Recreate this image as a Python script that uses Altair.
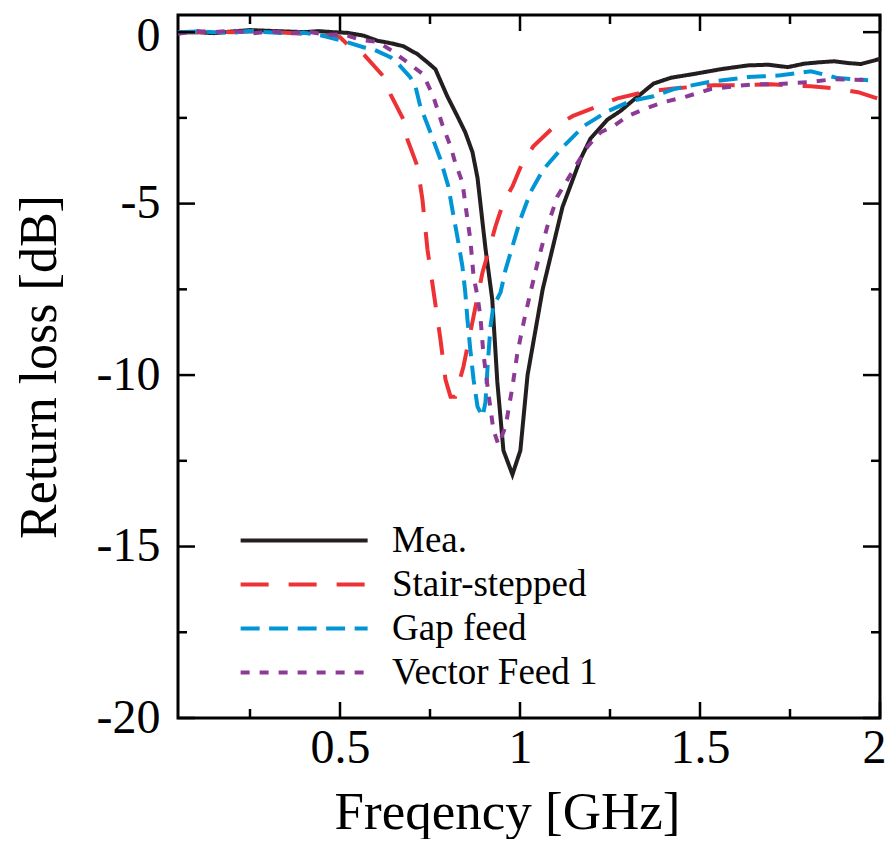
import altair as alt
import pandas as pd

series = ["Mea.", "Stair-stepped", "Gap feed", "Vector Feed 1"]
colors = ["#231F20", "#EE3135", "#0096D6", "#8C3A96"]
dashes = [[1, 0], [28, 20], [19, 9.5], [9, 10]]

mea_f = [0.05, 0.10, 0.15, 0.20, 0.25, 0.30, 0.35, 0.40, 0.44, 0.48, 0.52, 0.565, 0.604, 0.64, 0.676,
         0.715, 0.743, 0.765, 0.798, 0.826, 0.848, 0.868, 0.882, 0.904, 0.923, 0.937, 0.954, 0.979,
         1.001, 1.021, 1.063, 1.118, 1.168, 1.196, 1.243, 1.279, 1.307, 1.371, 1.419, 1.483, 1.558,
         1.633, 1.69, 1.744, 1.789, 1.83, 1.872, 1.91, 1.947, 2.0]
mea_db = [0.0, 0.0, -0.03, 0.02, 0.06, 0.04, 0.02, 0.0, 0.03, 0.0, -0.02, -0.1, -0.25, -0.32, -0.41,
          -0.64, -0.88, -1.08, -1.87, -2.45, -2.92, -3.5, -4.25, -6.3, -7.8, -10.2, -12.2, -12.9,
          -12.2, -10.0, -7.5, -5.1, -3.7, -3.1, -2.55, -2.3, -2.05, -1.5, -1.33, -1.22, -1.08,
          -0.97, -0.95, -1.02, -0.92, -0.88, -0.85, -0.9, -0.93, -0.78]

stair_f = [0.05, 0.10, 0.15, 0.20, 0.25, 0.30, 0.35, 0.40, 0.45, 0.50, 0.52, 0.565, 0.62, 0.64, 0.676,
           0.687, 0.715, 0.729, 0.743, 0.759, 0.779, 0.793, 0.807, 0.82, 0.843, 0.871, 0.896, 0.912,
           0.932, 0.954, 0.979, 1.007, 1.037, 1.093, 1.146, 1.216, 1.271, 1.343, 1.427, 1.538, 1.605,
           1.697, 1.744, 1.808, 1.872, 1.939, 2.0]
stair_db = [0.0, 0.0, 0.02, 0.0, 0.02, 0.0, -0.02, -0.05, -0.1, -0.15, -0.35, -0.64, -1.28, -1.81, -2.54,
            -3.12, -3.91, -4.88, -6.34, -7.5, -8.96, -10.13, -10.63, -10.63, -9.75, -8.29, -7.0, -6.42,
            -5.66, -4.96, -4.5, -3.8, -3.33, -2.77, -2.45, -2.16, -1.93, -1.75, -1.64, -1.55, -1.55,
            -1.52, -1.55, -1.58, -1.64, -1.75, -1.96]

gap_f = [0.05, 0.10, 0.15, 0.20, 0.25, 0.30, 0.35, 0.40, 0.45, 0.509, 0.565, 0.592, 0.64, 0.662, 0.695,
         0.71, 0.723, 0.751, 0.779, 0.801, 0.812, 0.826, 0.84, 0.848, 0.854, 0.862, 0.871, 0.882, 0.896,
         0.904, 0.91, 0.918, 0.926, 0.946, 0.96, 0.979, 1.001, 1.029, 1.065, 1.121, 1.177, 1.243, 1.307,
         1.371, 1.427, 1.521, 1.633, 1.724, 1.808, 1.883, 1.967]
gap_db = [0.0, 0.02, 0.0, -0.02, 0.03, 0.0, -0.03, -0.02, -0.1, -0.26, -0.44, -0.5, -0.73, -0.93, -1.31,
          -1.6, -2.16, -2.92, -3.71, -4.5, -5.17, -5.96, -6.83, -7.59, -8.38, -9.26, -10.13, -10.92, -11.21,
          -10.8, -9.75, -8.58, -8.0, -7.59, -6.92, -6.25, -5.46, -4.67, -4.0, -3.33, -2.74, -2.31, -2.01,
          -1.87, -1.66, -1.46, -1.31, -1.26, -1.14, -1.34, -1.4]

vec_f = [0.05, 0.103, 0.15, 0.203, 0.256, 0.311, 0.356, 0.409, 0.464, 0.509, 0.556, 0.606, 0.645, 0.687,
         0.731, 0.759, 0.784, 0.807, 0.82, 0.84, 0.854, 0.862, 0.871, 0.882, 0.89, 0.898, 0.912, 0.926,
         0.94, 0.96, 0.979, 0.993, 1.01, 1.029, 1.051, 1.076, 1.104, 1.149, 1.188, 1.224, 1.26, 1.299,
         1.343, 1.399, 1.455, 1.53, 1.594, 1.649, 1.705, 1.8, 1.872, 1.967]
vec_db = [-0.05, 0.03, 0.0, 0.05, -0.04, 0.03, -0.04, 0.02, -0.08, -0.06, -0.22, -0.29, -0.55, -0.88,
          -1.23, -1.87, -2.69, -3.33, -3.8, -4.38, -5.46, -6.04, -7.12, -7.71, -8.29, -9.34, -10.51, -11.59,
          -12.03, -11.5, -10.34, -9.34, -8.47, -7.59, -6.63, -5.66, -4.79, -4.0, -3.33, -2.92, -2.74, -2.45,
          -2.25, -2.04, -1.9, -1.66, -1.58, -1.52, -1.52, -1.46, -1.37, -1.4]

x_major = [0.5, 1, 1.5, 2]
x_minor = [0.25, 0.75, 1.25, 1.75]
y_major = [0, -5, -10, -15, -20]
y_minor = [-2.5, -7.5, -12.5, -17.5]

W, H = 702, 703
FONT = "Liberation Serif"

frames = []
for name, fs, ds in [(series[0], mea_f, mea_db), (series[1], stair_f, stair_db),
                     (series[2], gap_f, gap_db), (series[3], vec_f, vec_db)]:
    frames.append(pd.DataFrame({"f": fs, "db": ds, "series": name}))
df = pd.concat(frames, ignore_index=True)

x_scale = alt.Scale(domain=[0.05, 2], nice=False, zero=False)
y_scale = alt.Scale(domain=[-20, 0.5], nice=False, zero=False)

x_axis = alt.Axis(
    values=x_major, labelExpr="'' + datum.value", title="Freqency [GHz]",
    ticks=False, tickSize=0, domain=False, grid=False,
    labelFlush=True, labelFlushOffset=6, labelOverlap=False,
    labelFontSize=48, labelFont=FONT, labelColor="black", labelPadding=6,
    titleFontSize=53, titleFont=FONT, titleColor="black", titleFontWeight="normal",
    titlePadding=14, titleX=329)
y_axis = alt.Axis(
    values=y_major, labelExpr="'' + datum.value", title="Return loss [dB]",
    ticks=False, tickSize=0, domain=False, grid=False, labelOverlap=False,
    labelOffset={"condition": {"test": "datum.value == 0", "value": 4}, "value": 0},
    labelFontSize=48, labelFont=FONT, labelColor="black", labelPadding=18,
    titleFontSize=52, titleFont=FONT, titleColor="black", titleFontWeight="normal", titlePadding=30)

legend = alt.Legend(
    title=None, orient="none", legendX=60, legendY=507,
    symbolType="M-1,0H7", symbolSize=1008, symbolStrokeWidth=4,
    labelFontSize=37, labelFont=FONT, labelColor="black", labelOffset=117,
    rowPadding=6, padding=0, labelLimit=500,
)

lines = alt.Chart(df).mark_line(strokeWidth=4, clip=True).encode(
    x=alt.X("f:Q", scale=x_scale, axis=x_axis),
    y=alt.Y("db:Q", scale=y_scale, axis=y_axis),
    color=alt.Color("series:N", scale=alt.Scale(domain=series, range=colors), legend=legend),
    strokeDash=alt.StrokeDash("series:N", scale=alt.Scale(domain=series, range=dashes), legend=legend),
)

tick_layers = []
for vals, ln in [(x_major, 16), (x_minor, 9)]:
    d = pd.DataFrame({"f": vals})
    base = alt.Chart(d).mark_rule(strokeWidth=2.5, color="black")
    tick_layers.append(base.encode(x=alt.X("f:Q", scale=x_scale, axis=x_axis),
                                   y=alt.value(H), y2=alt.value(H - ln)))
    tick_layers.append(base.encode(x=alt.X("f:Q", scale=x_scale, axis=x_axis),
                                   y=alt.value(0), y2=alt.value(ln)))
for vals, ln in [(y_major, 17), (y_minor, 9)]:
    d = pd.DataFrame({"db": vals})
    base = alt.Chart(d).mark_rule(strokeWidth=2.5, color="black")
    tick_layers.append(base.encode(y=alt.Y("db:Q", scale=y_scale, axis=y_axis),
                                   x=alt.value(0), x2=alt.value(ln)))
    tick_layers.append(base.encode(y=alt.Y("db:Q", scale=y_scale, axis=y_axis),
                                   x=alt.value(W - ln), x2=alt.value(W)))

chart = alt.layer(lines, *tick_layers).properties(
    width=W, height=H,
    autosize=alt.AutoSizeParams(type="none"),
    padding={"left": 170, "top": 7, "right": 6, "bottom": 121},
).configure_view(stroke="black", strokeWidth=3)

chart.save("out.html", embed_options={"renderer": "svg", "actions": False})
